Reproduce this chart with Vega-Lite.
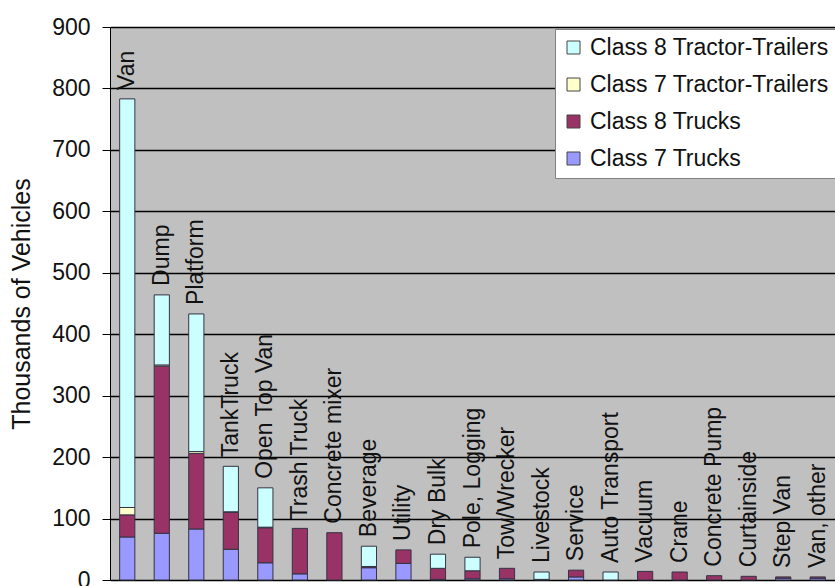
{
  "$schema": "https://vega.github.io/schema/vega-lite/v6.json",
  "width": 725,
  "height": 553,
  "autosize": {"type": "none"},
  "padding": {"left": 110, "top": 27, "right": 0, "bottom": 6},
  "background": "white",
  "config": {
    "font": "Liberation Sans",
    "view": {"fill": "#c0c0c0", "stroke": "#808080", "strokeWidth": 1}
  },
  "data": {
    "values": [
      {"type": "Van", "series": "Class 7 Trucks", "value": 70},
      {"type": "Van", "series": "Class 8 Trucks", "value": 36},
      {"type": "Van", "series": "Class 7 Tractor-Trailers", "value": 12},
      {"type": "Van", "series": "Class 8 Tractor-Trailers", "value": 665},
      {"type": "Dump", "series": "Class 7 Trucks", "value": 76},
      {"type": "Dump", "series": "Class 8 Trucks", "value": 272},
      {"type": "Dump", "series": "Class 7 Tractor-Trailers", "value": 2},
      {"type": "Dump", "series": "Class 8 Tractor-Trailers", "value": 114},
      {"type": "Platform", "series": "Class 7 Trucks", "value": 83},
      {"type": "Platform", "series": "Class 8 Trucks", "value": 123},
      {"type": "Platform", "series": "Class 7 Tractor-Trailers", "value": 3},
      {"type": "Platform", "series": "Class 8 Tractor-Trailers", "value": 224},
      {"type": "TankTruck", "series": "Class 7 Trucks", "value": 50},
      {"type": "TankTruck", "series": "Class 8 Trucks", "value": 60},
      {"type": "TankTruck", "series": "Class 7 Tractor-Trailers", "value": 1},
      {"type": "TankTruck", "series": "Class 8 Tractor-Trailers", "value": 74},
      {"type": "Open Top Van", "series": "Class 7 Trucks", "value": 28},
      {"type": "Open Top Van", "series": "Class 8 Trucks", "value": 57},
      {"type": "Open Top Van", "series": "Class 7 Tractor-Trailers", "value": 1},
      {"type": "Open Top Van", "series": "Class 8 Tractor-Trailers", "value": 64},
      {"type": "Trash Truck", "series": "Class 7 Trucks", "value": 10},
      {"type": "Trash Truck", "series": "Class 8 Trucks", "value": 74},
      {"type": "Concrete mixer", "series": "Class 8 Trucks", "value": 77},
      {"type": "Beverage", "series": "Class 7 Trucks", "value": 20},
      {"type": "Beverage", "series": "Class 8 Trucks", "value": 2},
      {"type": "Beverage", "series": "Class 8 Tractor-Trailers", "value": 33},
      {"type": "Utility", "series": "Class 7 Trucks", "value": 27},
      {"type": "Utility", "series": "Class 8 Trucks", "value": 22},
      {"type": "Dry Bulk", "series": "Class 7 Trucks", "value": 1},
      {"type": "Dry Bulk", "series": "Class 8 Trucks", "value": 18},
      {"type": "Dry Bulk", "series": "Class 8 Tractor-Trailers", "value": 23},
      {"type": "Pole, Logging", "series": "Class 7 Trucks", "value": 2},
      {"type": "Pole, Logging", "series": "Class 8 Trucks", "value": 13},
      {"type": "Pole, Logging", "series": "Class 8 Tractor-Trailers", "value": 22},
      {"type": "Tow/Wrecker", "series": "Class 7 Trucks", "value": 2},
      {"type": "Tow/Wrecker", "series": "Class 8 Trucks", "value": 17},
      {"type": "Livestock", "series": "Class 8 Trucks", "value": 1},
      {"type": "Livestock", "series": "Class 8 Tractor-Trailers", "value": 12},
      {"type": "Service", "series": "Class 7 Trucks", "value": 5},
      {"type": "Service", "series": "Class 8 Trucks", "value": 11},
      {"type": "Auto Transport", "series": "Class 8 Tractor-Trailers", "value": 13},
      {"type": "Vacuum", "series": "Class 8 Trucks", "value": 14},
      {"type": "Crane", "series": "Class 8 Trucks", "value": 13},
      {"type": "Concrete Pump", "series": "Class 8 Trucks", "value": 7},
      {"type": "Curtainside", "series": "Class 8 Trucks", "value": 6},
      {"type": "Step Van", "series": "Class 7 Trucks", "value": 3},
      {"type": "Step Van", "series": "Class 8 Trucks", "value": 2},
      {"type": "Van, other", "series": "Class 7 Trucks", "value": 3},
      {"type": "Van, other", "series": "Class 8 Trucks", "value": 2}
    ]
  },
  "layer": [
    {
      "transform": [
        {"calculate": "indexof(['Class 7 Trucks', 'Class 8 Trucks', 'Class 7 Tractor-Trailers', 'Class 8 Tractor-Trailers'], datum.series)", "as": "stackOrder"}
      ],
      "mark": {"type": "bar", "stroke": "#333344", "strokeWidth": 1},
      "encoding": {
        "x": {
          "field": "type",
          "type": "nominal",
          "sort": null,
          "scale": {"paddingInner": 0.56, "paddingOuter": 0.28},
          "axis": null
        },
        "y": {
          "field": "value",
          "type": "quantitative",
          "stack": "zero",
          "scale": {"domain": [0, 900], "nice": false},
          "axis": {
            "title": "Thousands of Vehicles",
            "titleFontSize": 25,
            "titleFontWeight": "normal",
            "titleColor": "#111",
            "titlePadding": 17,
            "labelFontSize": 23,
            "labelColor": "#111",
            "labelPadding": 12,
            "tickSize": 8,
            "tickColor": "#000",
            "domainColor": "#000",
            "gridColor": "#000",
            "gridWidth": 1.5,
            "values": [0, 100, 200, 300, 400, 500, 600, 700, 800, 900]
          }
        },
        "color": {
          "field": "series",
          "type": "nominal",
          "scale": {
            "domain": ["Class 8 Tractor-Trailers", "Class 7 Tractor-Trailers", "Class 8 Trucks", "Class 7 Trucks"],
            "range": ["#ccffff", "#ffffcc", "#993366", "#9999ff"]
          },
          "legend": {
            "title": null,
            "orient": "none",
            "legendX": 445,
            "legendY": 2,
            "fillColor": "white",
            "strokeColor": "#808080",
            "padding": 7,
            "symbolType": "square",
            "symbolSize": 169,
            "symbolStrokeColor": "#444",
            "symbolStrokeWidth": 1,
            "symbolOpacity": 1,
            "labelFontSize": 23,
            "labelColor": "#111",
            "labelOffset": 5,
            "rowPadding": 13,
            "labelLimit": 400
          }
        },
        "order": {"field": "stackOrder"}
      }
    },
    {
      "transform": [
        {"aggregate": [{"op": "sum", "field": "value", "as": "total"}], "groupby": ["type"]}
      ],
      "mark": {
        "type": "text",
        "angle": 270,
        "align": "left",
        "baseline": "middle",
        "dx": 9,
        "fontSize": 23,
        "color": "#111"
      },
      "encoding": {
        "x": {"field": "type", "type": "nominal", "sort": null},
        "y": {"field": "total", "type": "quantitative"},
        "text": {"field": "type"}
      }
    }
  ]
}
